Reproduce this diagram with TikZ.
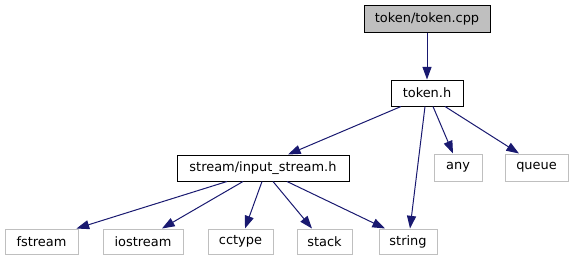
\documentclass[tikz,border=0pt]{standalone}
\usepackage{fontspec}
\setmainfont{DejaVu Sans}
\usetikzlibrary{arrows.meta,calc}
\definecolor{edgeblue}{HTML}{191970}
\definecolor{boxgray}{HTML}{BFBFBF}
\definecolor{sysgray}{HTML}{BFBFBF}
\tikzset{
  filebox/.style={draw=black, line width=0.75pt, fill=white, inner sep=0pt,
    minimum height=19.5pt, font=\fontsize{9.7}{11.6}\selectfont},
  rootbox/.style={filebox, fill=boxgray},
  sysbox/.style={draw=sysgray, line width=0.75pt, fill=white, inner sep=0pt,
    minimum height=19.5pt, font=\fontsize{9.7}{11.6}\selectfont},
  dep/.style={draw=edgeblue, line width=0.75pt,
    -{Triangle[length=9.5pt,width=6.8pt,fill=edgeblue]}},
}
\begin{document}
\begin{tikzpicture}[x=0.75pt,y=-0.75pt]
\useasboundingbox (0,0) rectangle (573,261);

% source file and its headers
\node[rootbox, minimum width=94.5pt, minimum height=20.25pt] (cpp) at (427,18.5) {token/token.cpp};
\node[filebox, minimum width=54pt] (tokh) at (427,93) {token.h};
\node[filebox, minimum width=129pt] (ins) at (263,168) {stream/input\_stream.h};

% standard library headers
\node[sysbox, minimum width=36pt, minimum height=20.25pt] (any) at (458,167.5) {any};
\node[sysbox, minimum width=47.25pt, minimum height=20.25pt] (queue) at (536.5,167.5) {queue};
\node[sysbox, minimum width=54.75pt, minimum height=18.75pt] (fstream) at (41.5,241.5) {fstream};
\node[sysbox, minimum width=60pt, minimum height=18.75pt] (iostream) at (143,241.5) {iostream};
\node[sysbox, minimum width=48.75pt, minimum height=18.75pt] (cctype) at (240.5,241.5) {cctype};
\node[sysbox, minimum width=41.25pt, minimum height=18.75pt] (stack) at (324.5,241.5) {stack};
\node[sysbox, minimum width=43.5pt, minimum height=18.75pt] (string) at (408,241.5) {string};

% include edges
\draw[dep] (cpp.south) -- (tokh.north);
\draw[dep] ($(tokh.south)+(-26,0)$) -- ($(ins.north)+(25,0)$);
\draw[dep] ($(tokh.south)+(-2,0)$) -- ($(string.north)+(2,0)$);
\draw[dep] ($(tokh.south)+(6,0)$) -- ($(any.north)+(-5,0)$);
\draw[dep] ($(tokh.south)+(18,0)$) -- ($(queue.north)+(-17.5,0)$);

\draw[dep] ($(ins.south)+(-36,0)$) -- ($(fstream.north)+(35,0)$);
\draw[dep] ($(ins.south)+(-20,0)$) -- ($(iostream.north)+(19,0)$);
\draw[dep] ($(ins.south)+(-1,0)$) -- ($(cctype.north)+(4.5,0)$);
\draw[dep] ($(ins.south)+(10,0)$) -- ($(stack.north)+(-12.5,0)$);
\draw[dep] ($(ins.south)+(24,0)$) -- ($(string.north)+(-23,0)$);
\end{tikzpicture}
\end{document}
